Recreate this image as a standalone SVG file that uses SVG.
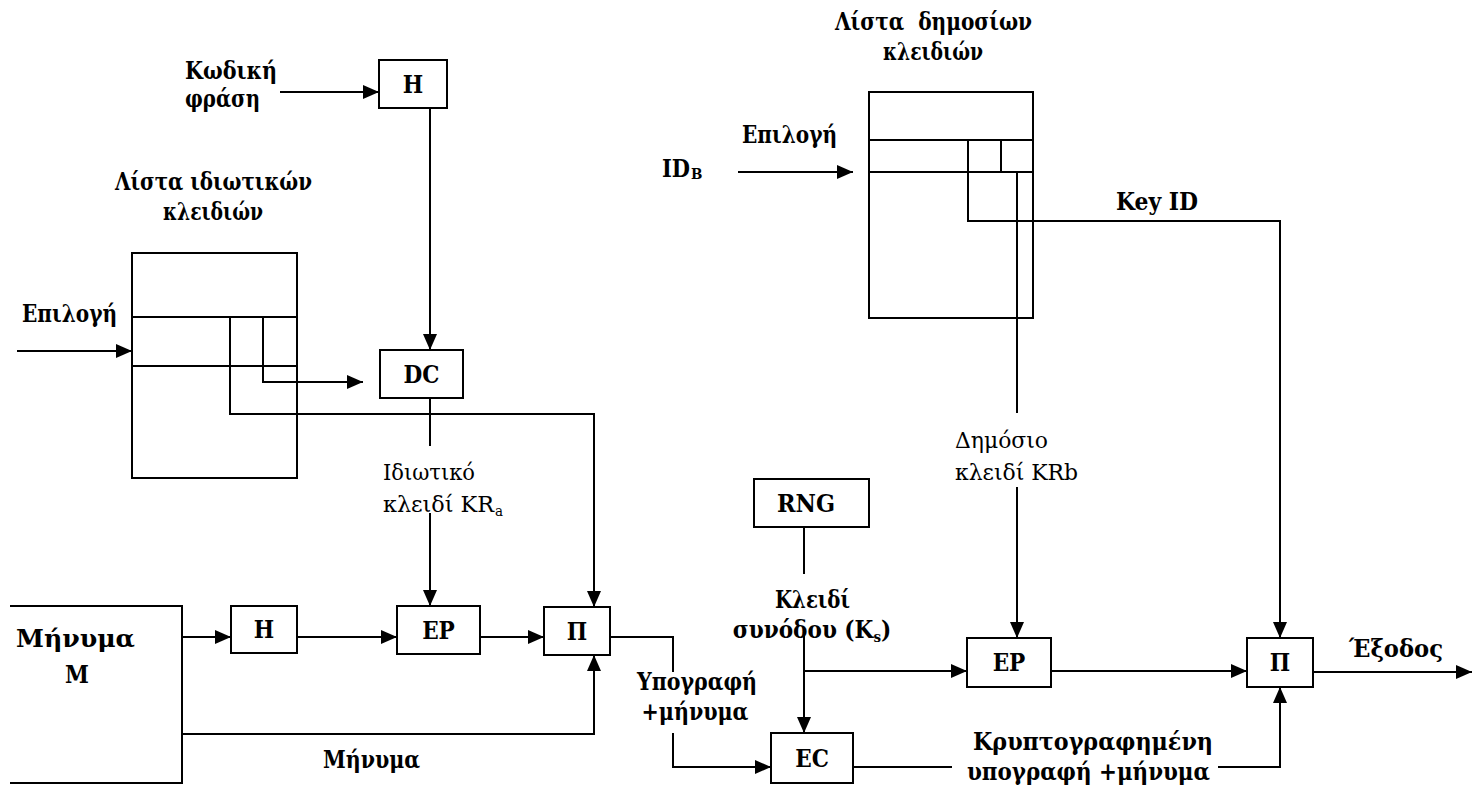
<svg xmlns="http://www.w3.org/2000/svg" width="1479" height="787" viewBox="0 0 1479 787">
<style>
.box{fill:#fff;stroke:#000;stroke-width:2}
.lst{fill:none;stroke:#000;stroke-width:2}
.ln{fill:none;stroke:#000;stroke-width:2}
.arr{fill:none;stroke:#000;stroke-width:2;marker-end:url(#ah)}
text{fill:#000}
.b{font-weight:bold;font-size:24px}
.r{font-size:23px}
.c{text-anchor:middle}
.sub{font-size:15px}
</style>
<defs>
<marker id="ah" viewBox="0 0 16 14" refX="16" refY="7" markerWidth="16" markerHeight="14" markerUnits="userSpaceOnUse" orient="auto">
<path d="M0,0 L16,7 L0,14 z" fill="#000"/>
</marker>
</defs>
<rect width="1479" height="787" fill="#fff"/>

<g font-family="'DejaVu Serif Condensed', 'DejaVu Serif', serif" font-stretch="condensed">
<g id="label-passphrase">
<text class="b" x="185" y="79" textLength="92" lengthAdjust="spacingAndGlyphs">Κωδική</text>
<text class="b" x="185" y="107" textLength="75" lengthAdjust="spacingAndGlyphs">φράση</text>
</g>

<g id="hash-top">
<rect class="box" x="379" y="60" width="68" height="48"/>
<text class="b c" x="413" y="93">H</text>
</g>

<g id="private-key-list">
<text class="b c" x="213.5" y="190" textLength="197" lengthAdjust="spacingAndGlyphs">Λίστα ιδιωτικών</text>
<text class="b c" x="213" y="220" textLength="100" lengthAdjust="spacingAndGlyphs">κλειδιών</text>
<rect class="lst" x="132" y="253" width="165" height="225"/>
<path class="ln" d="M132,317 H297 M132,366 H297"/>
<text class="b" x="22" y="322" textLength="95" lengthAdjust="spacingAndGlyphs">Επιλογή</text>
</g>

<g id="dc">
<rect class="box" x="380" y="350" width="83" height="48"/>
<text class="b c" x="421.5" y="383">DC</text>
</g>

<g id="label-private-key">
<text class="r" x="383" y="480" textLength="92" lengthAdjust="spacingAndGlyphs">Ιδιωτικό</text>
<text class="r" x="383" y="512"><tspan textLength="111" lengthAdjust="spacingAndGlyphs">κλειδί KR</tspan><tspan class="sub" x="495" y="516">a</tspan></text>
</g>

<g id="message">
<path class="ln" d="M10,606 H182 V783 H10"/>
<text class="b c" x="75.5" y="647" font-size="28" textLength="119" lengthAdjust="spacingAndGlyphs">Μήνυμα</text>
<text class="b c" x="77" y="683" font-size="28">M</text>
</g>

<g id="hash-bottom">
<rect class="box" x="231" y="606" width="66" height="47"/>
<text class="b c" x="264" y="638">H</text>
</g>

<g id="ep-left">
<rect class="box" x="397" y="606" width="83" height="48"/>
<text class="b c" x="438.5" y="639">EP</text>
</g>

<g id="concat-left">
<rect class="box" x="544" y="607" width="66" height="48"/>
<text class="b c" x="577" y="640">Π</text>
</g>

<g id="label-message">
<text class="b c" x="371.5" y="768" textLength="97" lengthAdjust="spacingAndGlyphs">Μήνυμα</text>
</g>

<g id="label-signature">
<text class="b c" x="697" y="690" textLength="120" lengthAdjust="spacingAndGlyphs">Υπογραφή</text>
<text class="b c" x="695" y="720" textLength="107" lengthAdjust="spacingAndGlyphs">+μήνυμα</text>
</g>

<g id="public-key-list">
<text class="b c" x="933.5" y="30" xml:space="preserve" textLength="197" lengthAdjust="spacingAndGlyphs">Λίστα  δημοσίων</text>
<text class="b c" x="933" y="60" textLength="100" lengthAdjust="spacingAndGlyphs">κλειδιών</text>
<rect class="lst" x="869" y="92" width="164" height="226"/>
<path class="ln" d="M869,140 H1033 M869,172 H1033 M1001,140 V172"/>
<text class="b" x="742" y="143" textLength="95" lengthAdjust="spacingAndGlyphs">Επιλογή</text>
<text class="b" x="662" y="177"><tspan textLength="28" lengthAdjust="spacingAndGlyphs">ID</tspan><tspan class="sub" x="691" y="179">B</tspan></text>
</g>

<g id="label-keyid">
<text class="b" x="1116" y="210" textLength="82" lengthAdjust="spacingAndGlyphs">Key ID</text>
</g>

<g id="label-public-key">
<text class="r" x="955" y="448" textLength="93" lengthAdjust="spacingAndGlyphs">Δημόσιο</text>
<text class="r" x="955" y="480" textLength="123" lengthAdjust="spacingAndGlyphs">κλειδί KRb</text>
</g>

<g id="rng">
<rect class="box" x="754" y="479" width="115" height="48"/>
<text class="b c" x="806" y="512" textLength="58" lengthAdjust="spacingAndGlyphs">RNG</text>
</g>

<g id="label-session-key">
<text class="b c" x="812.5" y="608" textLength="75" lengthAdjust="spacingAndGlyphs">Κλειδί</text>
<text class="b c" x="812" y="638" font-size="21">συνόδου (K<tspan class="sub" dy="4">s</tspan><tspan dy="-4">)</tspan></text>
</g>

<g id="ec">
<rect class="box" x="771" y="733" width="82" height="50"/>
<text class="b c" x="812" y="767">EC</text>
</g>

<g id="ep-right">
<rect class="box" x="967" y="638" width="84" height="49"/>
<text class="b c" x="1009" y="671">EP</text>
</g>

<g id="label-encrypted">
<text class="b c" x="1093" y="750" textLength="240" lengthAdjust="spacingAndGlyphs">Κρυπτογραφημένη</text>
<text class="b c" x="1088.5" y="780" textLength="243" lengthAdjust="spacingAndGlyphs">υπογραφή +μήνυμα</text>
</g>

<g id="concat-right">
<rect class="box" x="1247" y="638" width="66" height="49"/>
<text class="b c" x="1280" y="671">Π</text>
</g>

<g id="label-output">
<text class="b" x="1349" y="657" textLength="94" lengthAdjust="spacingAndGlyphs">Έξοδος</text>
</g>
</g>

<g id="connectors">
<path class="arr" d="M280,92 H379"/>
<path class="arr" d="M430,108 V350"/>
<path class="arr" d="M17,351 H132"/>
<path class="arr" d="M263,317 V382 H363"/>
<path class="arr" d="M230,317 V414 H594 V607"/>
<path class="ln" d="M430,398 V446"/>
<path class="arr" d="M430,513 V606"/>
<path class="arr" d="M182,637 H231"/>
<path class="arr" d="M297,637 H397"/>
<path class="arr" d="M480,637 H544"/>
<path class="arr" d="M182,734 H594 V655"/>
<path class="ln" d="M610,637 H673 V672"/>
<path class="arr" d="M673,733 V767 H771"/>
<path class="ln" d="M804,527 V574"/>
<path class="arr" d="M804,628 V733"/>
<path class="arr" d="M804,671 H967"/>
<path class="arr" d="M738,172 H853"/>
<path class="ln" d="M1017,172 V413"/>
<path class="arr" d="M1017,487 V638"/>
<path class="arr" d="M1051,671 H1247"/>
<path class="arr" d="M968,140 V221 H1280 V638"/>
<path class="ln" d="M853,767 H952"/>
<path class="arr" d="M1218,767 H1280 V687"/>
<path class="arr" d="M1313,672 H1472"/>
</g>
</svg>
